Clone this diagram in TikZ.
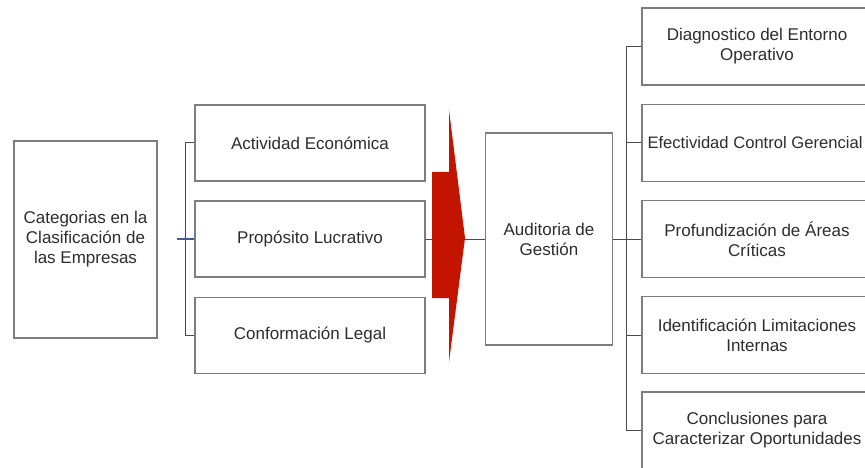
\documentclass[tikz,border=0pt]{standalone}
\usepackage{fontspec}
\setmainfont{Liberation Sans}
\definecolor{boxgray}{RGB}{125,125,125}
\definecolor{linegray}{RGB}{75,75,75}
\definecolor{txtgray}{RGB}{45,45,45}
\definecolor{arrowred}{RGB}{195,20,0}
\definecolor{stubblue}{RGB}{60,95,140}

\begin{document}
\begin{tikzpicture}
  [x=1pt,y=-1pt,every node/.style={draw=boxgray,line width=1.3pt,fill=white,text=txtgray,align=center,inner sep=0pt,font=\fontsize{17}{20}\selectfont}]
  \useasboundingbox (0,0) rectangle (865,468);
  \clip (0,0) rectangle (865,468);

  \node[minimum width=143pt,minimum height=197pt] (cat) at (85.5,239.5) {Categorias en la\\Clasificación de\\las Empresas};

  \node[minimum width=230pt,minimum height=76pt] (act) at (310,143) {Actividad Económica};
  \node[minimum width=230pt,minimum height=76pt] (pro) at (310,239) {Propósito Lucrativo};
  \node[minimum width=230pt,minimum height=76pt] (con) at (310,335.5) {Conformación Legal};

  \node[minimum width=127pt,minimum height=212pt] (aud) at (549,239) {Auditoria de\\Gestión};

  \node[minimum width=230pt,minimum height=77pt] (diag) at (757,46.5) {Diagnostico del Entorno\\Operativo};
  \node[minimum width=230pt,minimum height=77pt,font=\fontsize{16.6}{20}\selectfont] (efec) at (757,143) {\hspace*{-4pt}Efectividad Control Gerencial};
  \node[minimum width=230pt,minimum height=77pt] (prof) at (757,239) {Profundización de Áreas\\Críticas};
  \node[minimum width=230pt,minimum height=77pt] (iden) at (757,335) {Identificación Limitaciones\\Internas};
  \node[minimum width=230pt,minimum height=77pt] (conc) at (757,430.5) {Conclusiones para\\Caracterizar Oportunidades};

  \coordinate (stub) at (177,239);

  % left bracket
  \draw[linegray,line width=1pt] (act.west) -- ++(-9,0) |- (con.west);
  \draw[linegray,line width=1pt] (pro.west) -- ++(-9,0);
  \draw[stubblue,line width=1.5pt] (stub) -- ++(17,0);

  % right bracket
  \draw[linegray,line width=1pt] (diag.west) -- ++(-15,0) |- (conc.west);
  \foreach \n in {efec,prof,iden}
    \draw[linegray,line width=1pt] (\n.west) -- ++(-15,0);
  \draw[linegray,line width=1pt] (aud.east) -- (prof.west);

  % big arrow
  \draw[linegray,line width=1pt] (pro.east) -- (aud.west);
  \fill[arrowred] (432,172) -- (449,172) -- (449,110) -- (465,238)
    -- (449,362) -- (449,298) -- (432,298) -- cycle;

\end{tikzpicture}
\end{document}
